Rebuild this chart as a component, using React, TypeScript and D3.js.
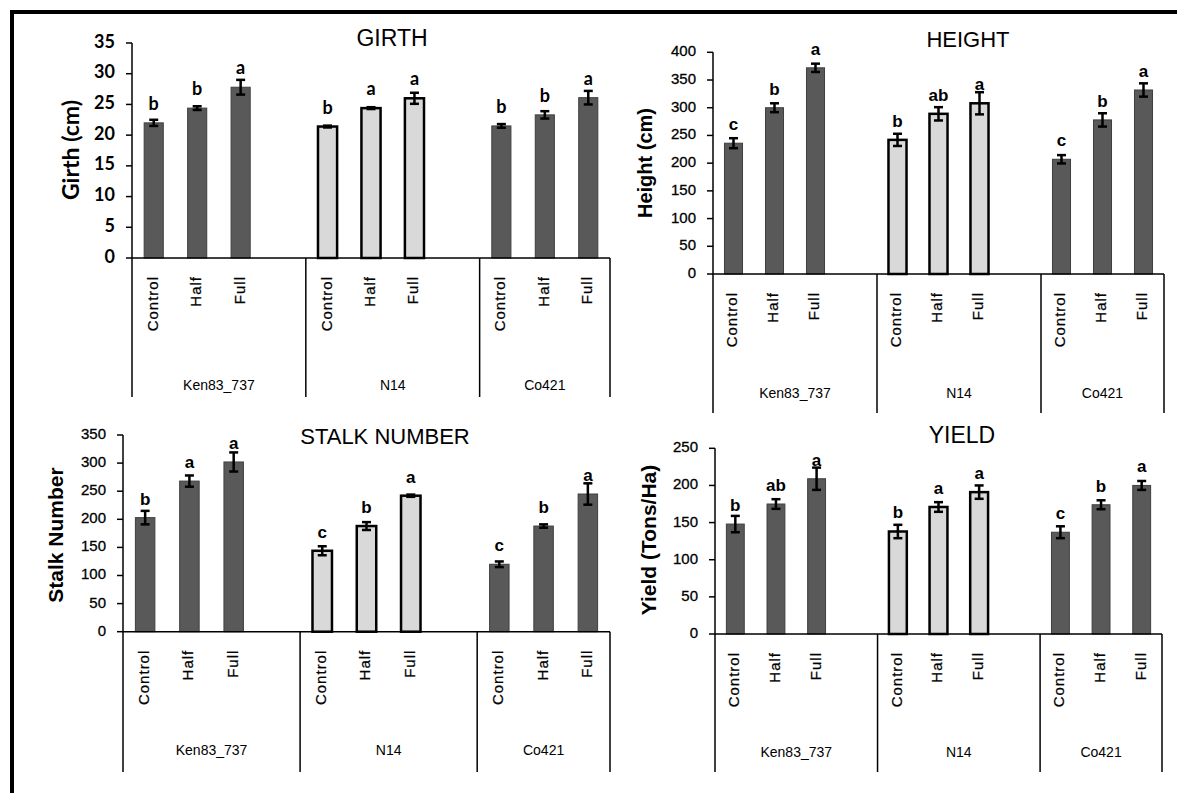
import * as d3 from 'd3';

// groups and treatments shared by all four panels
const groups = ['Ken83_737', 'N14', 'Co421'];
const treatments = ['Control', 'Half', 'Full'];

const girthMeans = [22.0, 24.4, 27.8, 21.4, 24.4, 26.0, 21.5, 23.3, 26.1];
const girthErrors = [0.5, 0.3, 1.2, 0.15, 0.15, 0.9, 0.3, 0.6, 1.1];
const girthLetters = ['b', 'b', 'a', 'b', 'a', 'a', 'b', 'b', 'a'];
const girthTicks = [0, 5, 10, 15, 20, 25, 30, 35];

const heightMeans = [236, 300, 372, 242, 289, 308, 207, 278, 332];
const heightErrors = [9, 8, 7.5, 11, 12, 20, 7.5, 12, 12];
const heightLetters = ['c', 'b', 'a', 'b', 'ab', 'a', 'c', 'b', 'a'];
const heightTicks = [0, 50, 100, 150, 200, 250, 300, 350, 400];

const stalkMeans = [203, 268, 302, 144, 188, 242, 120, 188, 245];
const stalkErrors = [12, 10, 17, 8, 7, 2, 5, 3, 19];
const stalkLetters = ['b', 'a', 'a', 'c', 'b', 'a', 'c', 'b', 'a'];
const stalkTicks = [0, 50, 100, 150, 200, 250, 300, 350];

const yieldMeans = [148, 175, 209, 138, 171, 191, 137, 174, 200];
const yieldErrors = [11, 6.5, 15, 9, 6.5, 9, 8, 6, 6];
const yieldLetters = ['b', 'ab', 'a', 'b', 'a', 'a', 'c', 'b', 'a'];
const yieldTicks = [0, 50, 100, 150, 200, 250];

// 11 slots on the x axis: 3 bars per group with an empty slot between groups
const slots: string[] = [];
groups.forEach((g, gi) => {
    treatments.forEach(t => slots.push(g + '|' + t));
    if (gi < groups.length - 1) slots.push('gap' + gi);
});

const ARIAL = '"Liberation Sans", Arial, sans-serif';
const CALIBRI = 'Lato, "Open Sans", sans-serif';

interface PanelProps {
    title: string;
    axisTitle: string;
    means: number[];
    errors: number[];
    letters: string[];
    ticks: number[];
    x0: number; x1: number;
    yBase: number; yTop: number;
    boxBottom: number; groupY: number;
    titleX: number; titleY: number; titleSize: number;
    axisX: number; axisY: number; axisSize: number;
    numFont: string; numSize: number; numWeight: number;
    letterSize: number;
    axisFont: string;
}

const Panel = (p: PanelProps) => {
    const x = d3.scaleBand<string>().domain(slots).range([p.x0, p.x1]).padding(0);
    const y = d3.scaleLinear().domain([0, p.ticks[p.ticks.length - 1]]).range([p.yBase, p.yTop]);
    const bw = x.bandwidth() * 0.44;

    const bars = groups.flatMap((g, gi) => treatments.map((t, ti) => {
        const i = gi * 3 + ti;
        return { key: g + '|' + t, group: g, treat: t, gi, v: p.means[i], e: p.errors[i], l: p.letters[i] };
    }));

    // group box edges: axis start, after each 4-slot group, axis end
    const edges = [p.x0, x('gap0')! + x.bandwidth(), x('gap1')! + x.bandwidth(), p.x1];

    return (
        <g>
            <text x={p.titleX} y={p.titleY} textAnchor="middle" fontFamily={ARIAL} fontSize={p.titleSize}>{p.title}</text>
            <text transform={`translate(${p.axisX},${p.axisY}) rotate(-90)`} textAnchor="middle" dominantBaseline="middle"
                fontFamily={p.axisFont} fontWeight={700} fontSize={p.axisSize}>{p.axisTitle}</text>

            {bars.map(b => {
                const cx = x(b.key)! + x.bandwidth() / 2;
                const light = b.gi === 1;
                return (
                    <g key={b.key}>
                        <rect x={cx - bw / 2} y={y(b.v)} width={bw} height={p.yBase - y(b.v)}
                            fill={light ? '#d9d9d9' : '#595959'} stroke={light ? '#000' : '#3f3f3f'}
                            strokeWidth={light ? 2.5 : 1} />
                        <line x1={cx} x2={cx} y1={y(b.v + b.e)} y2={y(b.v - b.e)} stroke="#000" strokeWidth={2.5} />
                        <line x1={cx - 4.5} x2={cx + 4.5} y1={y(b.v + b.e)} y2={y(b.v + b.e)} stroke="#000" strokeWidth={2.5} />
                        <line x1={cx - 4.5} x2={cx + 4.5} y1={y(b.v - b.e)} y2={y(b.v - b.e)} stroke="#000" strokeWidth={2.5} />
                        <text x={cx} y={y(b.v) - 13} textAnchor="middle" fontFamily={p.numFont} fontWeight={700}
                            fontSize={p.letterSize}>{b.l}</text>
                        <text transform={`translate(${cx},${p.yBase + 18}) rotate(-90)`} textAnchor="end"
                            dominantBaseline="middle" fontFamily={ARIAL} fontSize={15} letterSpacing={1}
                            stroke="#000" strokeWidth={0.25}>{b.treat}</text>
                    </g>
                );
            })}

            {/* y axis with ticks */}
            <line x1={p.x0} x2={p.x0} y1={p.yTop} y2={p.boxBottom} stroke="#000" strokeWidth={1.5} />
            {p.ticks.map(t => (
                <g key={t}>
                    <line x1={p.x0 - 6} x2={p.x0} y1={y(t)} y2={y(t)} stroke="#000" strokeWidth={1.5} />
                    <text x={p.x0 - 17} y={y(t)} textAnchor="end" dominantBaseline="middle"
                        fontFamily={p.numFont} fontWeight={p.numWeight} fontSize={p.numSize}
                        stroke={p.numWeight < 700 ? '#000' : 'none'} strokeWidth={0.3}>{t}</text>
                </g>
            ))}

            {/* x axis and category box */}
            <line x1={p.x0} x2={p.x1} y1={p.yBase} y2={p.yBase} stroke="#000" strokeWidth={1.5} />
            {edges.slice(1).map((ex, i) => (
                <line key={i} x1={ex} x2={ex} y1={p.yBase} y2={p.boxBottom} stroke="#000" strokeWidth={1.5} />
            ))}
            {groups.map((g, i) => (
                <text key={g} x={(edges[i] + edges[i + 1]) / 2} y={p.groupY} textAnchor="middle"
                    fontFamily={ARIAL} fontSize={14}>{g}</text>
            ))}
        </g>
    );
};

const App = () => {
    return (
        <svg width={1177} height={793} style={{ position: 'absolute', left: 0, top: 0, background: '#fff' }}>
            <rect x={12} y={12} width={1200} height={800} fill="none" stroke="#000" strokeWidth={4} />

            <Panel title="GIRTH" axisTitle="Girth (cm)" means={girthMeans} errors={girthErrors} letters={girthLetters}
                ticks={girthTicks} x0={132} x1={610} yBase={258} yTop={43} boxBottom={397} groupY={390}
                titleX={392} titleY={46} titleSize={23} axisX={73} axisY={150} axisSize={23}
                numFont={CALIBRI} numSize={18} numWeight={700} letterSize={18} axisFont={CALIBRI} />

            <Panel title="HEIGHT" axisTitle="Height (cm)" means={heightMeans} errors={heightErrors} letters={heightLetters}
                ticks={heightTicks} x0={713} x1={1164} yBase={274} yTop={52.3} boxBottom={413} groupY={398}
                titleX={968} titleY={47} titleSize={22} axisX={647} axisY={163} axisSize={20}
                numFont={ARIAL} numSize={15} numWeight={400} letterSize={17} axisFont={ARIAL} />

            <Panel title="STALK NUMBER" axisTitle="Stalk Number" means={stalkMeans} errors={stalkErrors} letters={stalkLetters}
                ticks={stalkTicks} x0={123} x1={610} yBase={631.7} yTop={435} boxBottom={772} groupY={755}
                titleX={385} titleY={444} titleSize={22} axisX={57} axisY={535} axisSize={21}
                numFont={ARIAL} numSize={15} numWeight={400} letterSize={17} axisFont={ARIAL} />

            <Panel title="YIELD" axisTitle="Yield (Tons/Ha)" means={yieldMeans} errors={yieldErrors} letters={yieldLetters}
                ticks={yieldTicks} x0={715} x1={1162} yBase={634} yTop={448.3} boxBottom={772} groupY={757}
                titleX={962} titleY={443} titleSize={23} axisX={650} axisY={540} axisSize={21}
                numFont={ARIAL} numSize={15} numWeight={400} letterSize={17} axisFont={ARIAL} />
        </svg>
    );
};

export default App;
